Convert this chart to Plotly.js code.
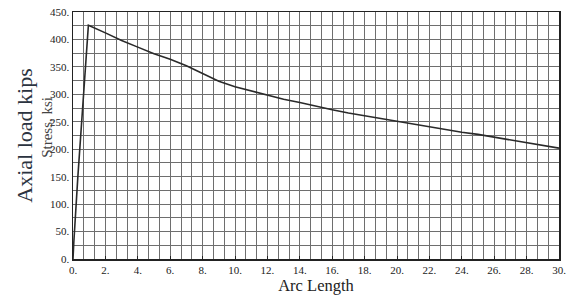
<!DOCTYPE html>
<html>
<head>
<meta charset="utf-8">
<script src="https://cdn.plot.ly/plotly-3.0.1.min.js"></script>
<style>html,body{margin:0;padding:0;background:#fff;}#chart{width:581px;height:301px;}</style>
</head>
<body>
<div id="chart"></div>
<script>
const arcLength = [0, 0.05, 0.3, 0.95, 2, 3, 4, 5, 6, 7, 8, 9, 10, 11, 12, 13, 14, 15, 16, 17, 18, 19, 20, 21, 22, 23, 24, 25, 26, 27, 28, 29, 30];
const axialLoad = [0, 30, 150, 426, 412, 398, 386, 374, 364, 352, 338, 324, 314, 306, 298, 291, 285, 278, 272, 266, 261, 255, 250, 245, 240, 236, 231, 227, 222, 217, 212, 207, 202];
const xTickVals = [0, 2, 4, 6, 8, 10, 12, 14, 16, 18, 20, 22, 24, 26, 28, 30];
const xTickText = ["0.", "2.", "4.", "6.", "8.", "10.", "12.", "14.", "16.", "18.", "20.", "22.", "24.", "26.", "28.", "30."];
const yTickVals = [0, 50, 100, 150, 200, 250, 300, 350, 400, 450];
const yTickText = ["0.", "50.", "100.", "150.", "200.", "250.", "300.", "350.", "400.", "450."];
const xTitle = "Arc Length";
const yTitle = "Axial load kips";
const ghostTitle = "Stress, ksi";

// grid line positions (every 2/3 unit in x, every 25 in y)
const xGrid = [];
for (let i = 0; i <= 45; i++) xGrid.push(Math.round(i * 2 / 3 * 1e6) / 1e6);
const yGrid = [];
for (let i = 0; i <= 18; i++) yGrid.push(i * 25);

const gridColor = "#6e6e6e";
const serif = "Liberation Serif, Times New Roman, serif";
const tickFont = {family: serif, size: 11, color: "#222"};

const data = [{
  x: arcLength, y: axialLoad, type: "scatter", mode: "lines",
  line: {color: "#2a2a2a", width: 1.6}, hoverinfo: "skip"
}];

const layout = {
  width: 581, height: 301,
  margin: {l: 73, r: 22, t: 12, b: 42, pad: 0},
  paper_bgcolor: "#fff", plot_bgcolor: "#fff",
  showlegend: false,
  xaxis: {
    range: [0, 30], tickmode: "array", tickvals: xTickVals, ticktext: xTickText,
    showgrid: true, gridcolor: gridColor, gridwidth: 1,
    minor: {tickmode: "array", tickvals: xGrid, showgrid: true, gridcolor: gridColor, gridwidth: 1, ticks: ""},
    showline: true, linecolor: "#222", linewidth: 1.5, mirror: true,
    ticks: "inside", ticklen: 3, tickcolor: "#222",
    zeroline: false, tickfont: tickFont,
    title: {text: xTitle, font: {family: serif, size: 16.5, color: "#222"}, standoff: 2}
  },
  yaxis: {
    range: [0, 450], tickmode: "array", tickvals: yTickVals, ticktext: yTickText,
    showgrid: true, gridcolor: gridColor, gridwidth: 1,
    minor: {tickmode: "array", tickvals: yGrid, showgrid: true, gridcolor: gridColor, gridwidth: 1, ticks: ""},
    showline: true, linecolor: "#222", linewidth: 1.5, mirror: true,
    ticks: "", zeroline: false, tickfont: tickFont,
    title: {text: yTitle, font: {family: serif, size: 22, color: "#2b3340"}, standoff: 11}
  },
  annotations: [{
    text: ghostTitle, xref: "paper", yref: "paper", x: -0.054, y: 0.534,
    xanchor: "center", yanchor: "middle", textangle: -90, showarrow: false,
    font: {family: serif, size: 15, color: "#444"}
  }]
};

Plotly.newPlot("chart", data, layout, {staticPlot: true, displayModeBar: false});
</script>
</body>
</html>
